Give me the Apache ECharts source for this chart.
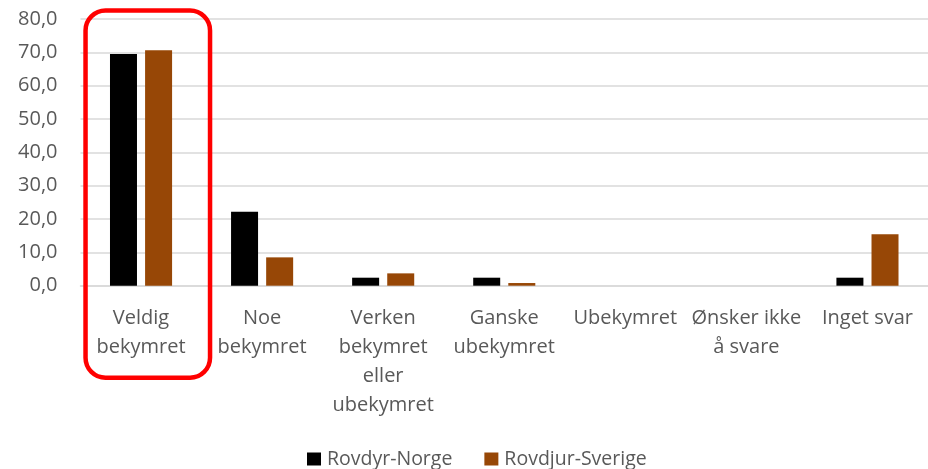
<!DOCTYPE html>
<html>
<head>
<meta charset="utf-8">
<script src="https://cdn.jsdelivr.net/npm/echarts@6/dist/echarts.min.js"></script>
<style>html,body{margin:0;padding:0;background:#fff;}#c{width:928px;height:469px;}</style>
</head>
<body>
<div id="c"></div>
<script>
var categories = ["Veldig\nbekymret", "Noe\nbekymret", "Verken\nbekymret\neller\nubekymret", "Ganske\nubekymret", "Ubekymret", "Ønsker ikke\nå svare", "Inget svar"];
var norge = [69.5, 22.2, 2.4, 2.4, 0, 0, 2.4];
var sverige = [70.6, 8.5, 3.7, 0.8, 0, 0, 15.4];
var seriesNames = ["Rovdyr-Norge", "Rovdjur-Sverige"];
var yTicks = {min: 0, max: 80, interval: 10};

var chart = echarts.init(document.getElementById('c'), null, {renderer: 'canvas'});
var font = '"Open Sans", "Liberation Sans", sans-serif';
var txt = '#595959';
chart.setOption({
  animation: false,
  backgroundColor: '#ffffff',
  grid: {left: 80.5, right: 0, top: 19, bottom: 183.3, containLabel: false},
  legend: {
    data: seriesNames, left: 302, top: 444, itemWidth: 14, itemHeight: 13, itemGap: 32,
    icon: 'rect',
    textStyle: {color: txt, fontSize: 19.5, fontFamily: font, padding: [0,0,0,1]}
  },
  xAxis: {
    type: 'category', data: categories,
    axisLine: {show: true, lineStyle: {color: '#d9d9d9', width: 1.5}},
    axisTick: {show: false},
    axisLabel: {interval: 0, color: txt, fontSize: 20, fontFamily: font, lineHeight: 29, margin: 18, align: 'center'}
  },
  yAxis: {
    type: 'value', min: yTicks.min, max: yTicks.max, interval: yTicks.interval,
    axisLine: {show: false}, axisTick: {show: false},
    splitLine: {lineStyle: {color: '#d9d9d9', width: 1.5}},
    axisLabel: {color: txt, fontSize: 20, fontFamily: font, margin: 23,
      formatter: function(v){ return v.toFixed(1).replace('.', ','); }}
  },
  series: [
    {name: seriesNames[0], type: 'bar', data: norge, barWidth: '22.3%', barGap: '30%',
     itemStyle: {color: '#000000'}},
    {name: seriesNames[1], type: 'bar', data: sverige, barWidth: '22.3%', barGap: '30%',
     itemStyle: {color: '#974706'}}
  ]
});

// Red highlight around first category (annotation), positioned relative to axis
var c0 = chart.convertToPixel({xAxisIndex: 0}, 0);
var y80 = chart.convertToPixel({yAxisIndex: 0}, 80);
var y0 = chart.convertToPixel({yAxisIndex: 0}, 0);
var lx = c0 - 55.5, rx = c0 + 69, ty = y80 - 8.5, by = y0 + 92;
chart.setOption({
  graphic: [{
    type: 'rect', z: 100,
    shape: {x: lx, y: ty, width: rx - lx, height: by - ty, r: 20},
    style: {fill: 'none', stroke: '#ff0000', lineWidth: 4.5}
  }]
});
</script>
</body>
</html>
